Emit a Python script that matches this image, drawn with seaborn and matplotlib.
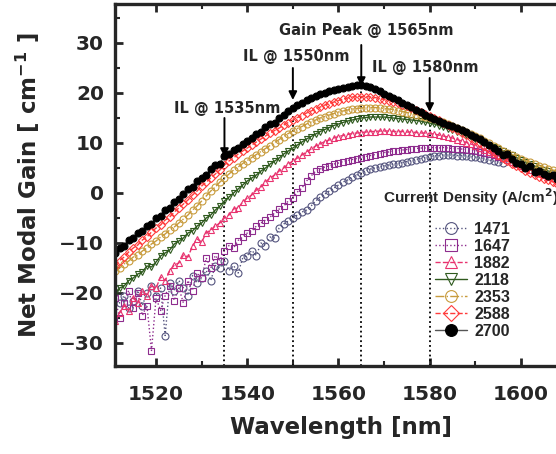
import numpy as np
import pandas as pd
import matplotlib
matplotlib.use("Agg")
import matplotlib.pyplot as plt
from matplotlib.ticker import MultipleLocator
import seaborn as sns

# wavelength grid (nm), one point per nm
wavelength = np.arange(1511, 1610)

current_density = ["1471", "1647", "1882", "2118", "2353", "2588", "2700"]

gain_1471 = [
    -19.0, -22.0, -20.5, -23.0, -21.5, -19.5, -22.5, -20.0, -18.5, -20.5,
    -19.0, -28.5, -18.0, -19.5, -17.5, -19.0, -20.5, -16.5, -18.0, -17.0,
    -15.5, -17.5, -14.5, -15.0, -13.5, -15.5, -14.5, -16.0, -13.0, -12.5,
    -11.5, -12.5, -10.0, -10.5, -8.8, -9.0, -7.0, -6.2, -5.6, -5.0,
    -4.4, -3.8, -3.4, -2.6, -1.6, -0.8, -0.2, 0.4, 1.0, 1.6,
    2.2, 2.6, 3.2, 3.6, 4.0, 4.5, 4.8, 5.0, 5.2, 5.4,
    5.6, 5.8, 5.9, 6.1, 6.3, 6.5, 6.7, 6.9, 7.1, 7.2,
    7.4, 7.5, 7.6, 7.6, 7.6, 7.5, 7.5, 7.4, 7.3, 7.2,
    7.0, 6.8, 6.6, 6.4, 6.2, 6.0,
]
gain_1647 = [
    -21.0, -25.0, -22.0, -19.5, -23.0, -20.0, -24.5, -22.5, -31.5, -21.0,
    -23.5, -20.5, -18.5, -21.5, -19.0, -22.0, -17.5, -19.5, -16.0, -17.0,
    -13.0, -15.0, -12.5, -13.5, -11.5, -10.5, -11.0, -9.5, -8.8, -8.0,
    -7.6, -6.6, -6.0, -5.4, -4.8, -4.0, -3.2, -2.6, -1.6, -1.0,
    0.2, 1.0, 2.4, 3.4, 4.4, 4.8, 5.2, 5.4, 5.8, 6.0,
    6.3, 6.5, 6.7, 6.9, 7.1, 7.3, 7.5, 7.7, 7.9, 8.1,
    8.2, 8.4, 8.5, 8.6, 8.7, 8.8, 8.9, 9.0, 9.0, 9.1,
    9.1, 9.0, 9.1, 9.0, 8.9, 8.9, 8.8, 8.7, 8.6, 8.5,
    8.3, 8.1, 7.9, 7.6, 7.3, 7.0,
]
gain_1882 = [
    -25.5, -24.0, -22.5, -23.5, -21.0, -22.0, -19.5, -20.5, -18.6, -19.0,
    -16.8, -17.5, -15.6, -14.4, -14.0, -12.4, -12.8, -10.6, -9.2, -9.8,
    -8.0, -7.4, -6.6, -6.0, -5.0, -4.4, -3.2, -3.0, -1.8, -1.0,
    -0.4, 0.6, 1.2, 2.2, 3.0, 3.6, 4.4, 5.0, 5.8, 6.4,
    7.0, 7.6, 8.2, 8.8, 9.4, 9.8, 10.3, 10.6, 11.0, 11.3,
    11.5, 11.7, 11.9, 12.0, 12.1, 12.2, 12.3, 12.3, 12.4, 12.4,
    12.4, 12.3, 12.3, 12.3, 12.2, 12.2, 12.1, 12.0, 12.0, 11.9,
    11.8, 11.6, 11.4, 11.2, 11.0, 10.7, 10.4, 10.1, 9.8, 9.5,
    9.1, 8.7, 8.3, 7.9, 7.5, 7.1, 6.7, 6.3, 5.9, 5.5,
    5.1, 4.7, 4.3, 4.0, 3.6, 3.3, 3.0, 2.7, 2.4,
]
gain_2118 = [
    -20.0, -19.0, -18.6, -17.5, -17.0, -16.2, -15.8, -14.6, -14.8, -13.8,
    -12.6, -12.0, -11.4, -10.2, -9.6, -9.0, -8.0, -7.6, -6.6, -6.0,
    -5.0, -4.4, -3.4, -2.6, -1.6, -0.8, 0.0, 0.8, 1.6, 2.4,
    3.0, 3.6, 4.4, 5.0, 5.8, 6.4, 7.0, 7.8, 8.4, 9.0,
    9.6, 10.2, 10.8, 11.3, 11.8, 12.3, 12.7, 13.1, 13.5, 13.8,
    14.1, 14.4, 14.6, 14.8, 15.0, 15.1, 15.2, 15.2, 15.2, 15.2,
    15.1, 15.0, 14.9, 14.8, 14.7, 14.6, 14.5, 14.4, 14.2, 14.0,
    13.8, 13.5, 13.2, 12.9, 12.6, 12.3, 12.0, 11.7, 11.3, 10.9,
    10.5, 10.1, 9.7, 9.3, 8.9, 8.5, 8.1, 7.6, 7.1, 6.7,
    6.2, 5.8, 5.4, 5.0, 4.7, 4.4, 4.1, 3.8, 3.5,
]
gain_2353 = [
    -15.5, -15.0, -14.2, -13.6, -12.8, -12.4, -11.6, -11.0, -10.2, -9.6,
    -8.8, -8.2, -7.4, -6.8, -6.0, -5.2, -4.4, -3.4, -2.6, -1.6,
    -0.6, 0.4, 1.2, 2.2, 3.0, 3.8, 4.6, 5.2, 5.9, 6.5,
    7.1, 7.7, 8.3, 8.9, 9.5, 10.1, 10.7, 11.3, 11.9, 12.4,
    12.9, 13.3, 13.8, 14.2, 14.6, 15.0, 15.3, 15.6, 15.9, 16.2,
    16.4, 16.6, 16.8, 16.9, 17.0, 17.1, 17.1, 17.1, 17.0, 16.9,
    16.8, 16.7, 16.5, 16.3, 16.1, 15.9, 15.7, 15.5, 15.3, 15.1,
    14.8, 14.5, 14.2, 13.9, 13.5, 13.1, 12.7, 12.3, 11.9, 11.5,
    11.0, 10.5, 10.0, 9.5, 9.0, 8.5, 8.1, 7.7, 7.3, 6.9,
    6.5, 6.2, 5.8, 5.5, 5.2, 4.9, 4.6, 4.3, 4.1,
]
gain_2588 = [
    -14.5, -13.5, -12.8, -11.8, -11.0, -10.4, -9.4, -8.8, -7.8, -7.0,
    -6.4, -5.4, -4.8, -3.8, -3.0, -2.2, -1.4, -0.4, 0.4, 1.4,
    2.2, 3.0, 3.8, 4.6, 5.6, 6.4, 7.0, 7.8, 8.4, 9.0,
    9.6, 10.2, 10.8, 11.4, 12.0, 12.5, 13.0, 13.6, 14.1, 14.6,
    15.1, 15.5, 16.0, 16.4, 16.8, 17.2, 17.6, 17.9, 18.2, 18.5,
    18.8, 19.0, 19.2, 19.3, 19.3, 19.3, 19.2, 19.1, 18.9, 18.7,
    18.5, 18.3, 18.0, 17.7, 17.4, 17.0, 16.6, 16.3, 15.9, 15.5,
    15.0, 14.6, 14.1, 13.6, 13.1, 12.6, 12.1, 11.6, 11.1, 10.6,
    10.0, 9.4, 8.8, 8.2, 7.6, 7.0, 6.4, 5.9, 5.4, 5.0,
    4.5, 4.0, 3.6, 3.2, 2.9, 2.6, 2.2, 1.9, 1.6,
]
gain_2700 = [
    -12.0, -11.0, -10.5, -9.3, -9.0, -8.0, -7.6, -6.5, -6.2, -5.0,
    -4.6, -3.4, -3.0, -1.8, -1.2, -0.2, 0.8, 1.2, 2.4, 3.0,
    3.6, 4.8, 5.6, 5.9, 7.4, 7.8, 8.7, 9.1, 9.9, 10.5,
    11.0, 11.8, 12.2, 13.2, 13.8, 14.0, 15.1, 15.6, 16.4, 17.0,
    17.6, 18.0, 18.6, 19.0, 19.4, 19.8, 20.1, 20.4, 20.6, 20.9,
    21.0, 21.2, 21.4, 21.6, 21.7, 21.5, 21.2, 20.8, 20.4, 19.9,
    19.4, 19.0, 18.6, 18.1, 17.6, 17.2, 16.7, 16.2, 15.7, 15.2,
    14.8, 14.4, 14.0, 13.7, 13.4, 13.0, 12.6, 12.2, 11.7, 11.2,
    10.8, 10.2, 9.6, 9.0, 8.4, 7.6, 7.8, 6.8, 6.0, 5.8,
    5.0, 5.4, 4.2, 4.4, 3.8, 3.4, 3.6, 2.8, 2.6,
]
series = [gain_1471, gain_1647, gain_1882, gain_2118, gain_2353, gain_2588, gain_2700]

colors = ["#55557f", "#8e2c8e", "#e8336f", "#2f5a1e", "#c89b3c", "#ff3b3b", "black"]
markers = ["o", "s", "^", "v", "o", "D", "o"]
linestyles = [":", ":", "--", "-", "-.", "--", "-"]

# annotated wavelengths, arrow spans and label positions
marks_nm = [1535, 1550, 1565, 1580]
mark_tops = [6.0, 15.5, 21.5, 14.5]
arrow_from = [15.0, 25.0, 29.6, 23.0]
arrow_to = [7.2, 18.6, 21.4, 16.2]
label_x = [1535.6, 1550.8, 1566.0, 1579.0]
label_y = [17.0, 27.2, 32.5, 25.1]
labels = ["IL @ 1535nm", "IL @ 1550nm", "Gain Peak @ 1565nm", "IL @ 1580nm"]

sns.set_style("ticks")
plt.rcParams["font.family"] = ["DejaVu Sans"]
plt.rcParams["font.weight"] = "bold"
plt.rcParams["mathtext.default"] = "bf"

fig = plt.figure(figsize=(5.56, 4.54), dpi=100)
ax = fig.add_axes([115 / 556, 88 / 454, 451.5 / 556, 362 / 454])

for name, vals, c, m, ls in zip(current_density, series, colors, markers, linestyles):
    df = pd.DataFrame({"wl": wavelength[:len(vals)], "gain": vals})
    filled = name == "2700"
    sns.lineplot(data=df, x="wl", y="gain", ax=ax, label=name, errorbar=None,
                 color="#555555" if filled else c, linestyle=ls, linewidth=1.0,
                 marker=m, markersize=4.5 if m == "D" else 5,
                 markerfacecolor="black" if filled else "none",
                 markeredgecolor=c, markeredgewidth=0.8)

ax.vlines(marks_nm, -34.6, mark_tops, colors="black", linestyles=":", linewidth=1.3, zorder=1)
for x, y0, y1, tx, ty, t in zip(marks_nm, arrow_from, arrow_to, label_x, label_y, labels):
    ax.annotate("", xy=(x, y1), xytext=(x, y0),
                arrowprops=dict(arrowstyle="-|>", color="black", lw=1.4,
                                mutation_scale=12, shrinkA=0, shrinkB=0))
    ax.text(tx, ty, t, ha="center", va="center", fontsize=10.5, fontweight="bold")

ax.set_xlim(1511, 1610)
ax.set_ylim(-34.6, 37.8)
ax.xaxis.set_major_locator(MultipleLocator(20))
ax.xaxis.set_minor_locator(MultipleLocator(10))
ax.yaxis.set_major_locator(MultipleLocator(10))
ax.yaxis.set_minor_locator(MultipleLocator(5))
ax.tick_params(which="both", direction="in", top=True, right=True)
ax.tick_params(which="major", length=6, width=2, labelsize=14.5)
ax.tick_params(axis="x", which="major", pad=14)
ax.tick_params(axis="y", which="major", pad=8)
ax.tick_params(which="minor", length=3.5, width=1.5)
for sp in ax.spines.values():
    sp.set_linewidth(2.4)

ax.set_xlabel("Wavelength [nm]", fontsize=16.5, fontweight="bold", labelpad=8)
ax.set_ylabel(r"Net Modal Gain [ cm$^{-1}$ ]", fontsize=16.5, fontweight="bold", labelpad=12)

leg = ax.legend(loc="upper left", bbox_to_anchor=(435 / 556, 232 / 454),
                bbox_transform=fig.transFigure, frameon=False, borderpad=0,
                borderaxespad=0, labelspacing=0.12, handlelength=2.0,
                handletextpad=0.45, markerscale=1.7,
                prop={"family": "Liberation Sans", "weight": "bold", "size": 11.5})
ax.text(1569.7, -0.8, r"Current Density (A/cm$^2$)", ha="left", va="center",
        fontsize=11, fontweight="bold", family="Liberation Sans", clip_on=False)

fig.savefig("out.png", dpi=100)
